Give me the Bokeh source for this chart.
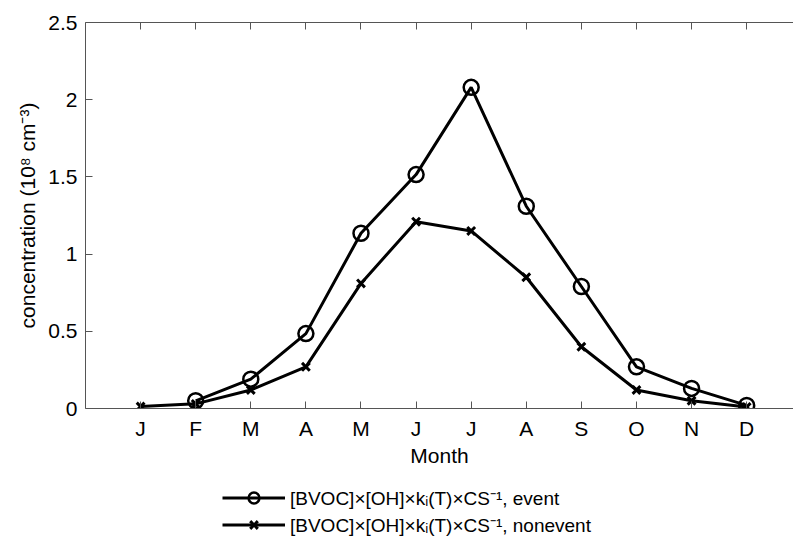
from bokeh.plotting import figure
from bokeh.layouts import column
from bokeh.models import (Range1d, FixedTicker, LinearAxis, Legend, LegendItem,
                          NumeralTickFormatter)
from bokeh.embed import file_html
from bokeh.resources import INLINE

# ---- data ----
months = ["J", "F", "M", "A", "M", "J", "J", "A", "S", "O", "N", "D"]
month_index = [1, 2, 3, 4, 5, 6, 7, 8, 9, 10, 11, 12]
event = [float("nan"), 0.05, 0.19, 0.485, 1.135, 1.515, 2.08, 1.31, 0.79, 0.27, 0.13, 0.02]
nonevent = [0.013, 0.03, 0.12, 0.27, 0.81, 1.21, 1.15, 0.85, 0.40, 0.12, 0.05, 0.01]
y_ticks = [0, 0.5, 1, 1.5, 2, 2.5]
event_label = "[BVOC]×[OH]×kᵢ(T)×CS⁻¹, event"
nonevent_label = "[BVOC]×[OH]×kᵢ(T)×CS⁻¹, nonevent"
x_label = "Month"
y_label = "concentration (10⁸ cm⁻³)"

FONT = "Liberation Sans"
AX_COLOR = "#555555"

p = figure(width=793, height=475, output_backend="svg", toolbar_location=None,
           x_range=Range1d(0, 12.85), y_range=Range1d(0, 2.5),
           min_border_left=85, min_border_right=0, min_border_top=22,
           min_border_bottom=67, x_axis_location="below")
p.xgrid.visible = False
p.ygrid.visible = False
p.outline_line_color = None
p.background_fill_color = "white"
p.border_fill_color = "white"

# bottom axis
xa = p.xaxis[0]
xa.ticker = FixedTicker(ticks=month_index)
xa.major_label_overrides = {i: m for i, m in zip(month_index, months)}
xa.axis_label = x_label
# left axis
ya = p.yaxis[0]
ya.ticker = FixedTicker(ticks=y_ticks)
ya.formatter = NumeralTickFormatter(format="0.[0]")
ya.axis_label = y_label

for ax in (xa, ya):
    ax.major_tick_in = 7
    ax.major_tick_out = 0
    ax.minor_tick_line_color = None
    ax.axis_line_color = AX_COLOR
    ax.major_tick_line_color = AX_COLOR
    ax.major_label_text_font = FONT
    ax.major_label_text_font_size = "21px"
    ax.major_label_text_color = "black"
    ax.axis_label_text_font = FONT
    ax.axis_label_text_font_size = "21px"
    ax.axis_label_text_font_style = "normal"
    ax.axis_label_text_color = "black"
xa.major_label_standoff = 8
xa.axis_label_standoff = 1
ya.major_label_standoff = 8
ya.axis_label_standoff = 6

# top axis (box edge with inward ticks, no labels)
ta = LinearAxis(ticker=FixedTicker(ticks=month_index))
ta.major_label_overrides = {i: "" for i in month_index}
ta.major_label_text_font_size = "20px"
ta.major_label_standoff = 0
ta.major_tick_in = 7
ta.major_tick_out = 0
ta.minor_tick_line_color = None
ta.axis_line_color = AX_COLOR
ta.major_tick_line_color = AX_COLOR
p.add_layout(ta, "above")

# series
line_kw = dict(line_color="black", line_width=3)
circle_kw = dict(marker="circle", size=15, fill_color=None, line_color="black", line_width=2.5)
cross_kw = dict(marker="x", size=11, line_color="black", line_width=3)
p.line(month_index, event, **line_kw)
p.scatter(month_index, event, **circle_kw)
p.line(month_index, nonevent, **line_kw)
p.scatter(month_index, nonevent, **cross_kw)

# legend strip below the chart (same series, drawn outside its visible range)
lg = figure(width=793, height=68, output_backend="svg", toolbar_location=None,
            x_range=Range1d(0, 12.85), y_range=Range1d(10, 11),
            min_border_left=0, min_border_right=0, min_border_top=0,
            min_border_bottom=0)
lg.axis.visible = False
lg.xgrid.visible = False
lg.ygrid.visible = False
lg.outline_line_color = None
l1 = lg.line(month_index, event, **line_kw)
s1 = lg.scatter(month_index, event, **circle_kw)
l2 = lg.line(month_index, nonevent, **line_kw)
s2 = lg.scatter(month_index, nonevent, **cross_kw)

legend = Legend(items=[LegendItem(label=event_label, renderers=[l1, s1]),
                       LegendItem(label=nonevent_label, renderers=[l2, s2])],
                location=(137, 5), orientation="vertical",
                border_line_color=None, background_fill_alpha=0,
                glyph_width=63, glyph_height=27, label_height=27,
                label_standoff=5, spacing=0, padding=0, margin=0,
                label_text_font=FONT, label_text_font_size="19px",
                label_text_color="black")
lg.add_layout(legend, "center")

layout = column(p, lg, spacing=0)
open("out.html", "w").write(file_html(layout, INLINE))
